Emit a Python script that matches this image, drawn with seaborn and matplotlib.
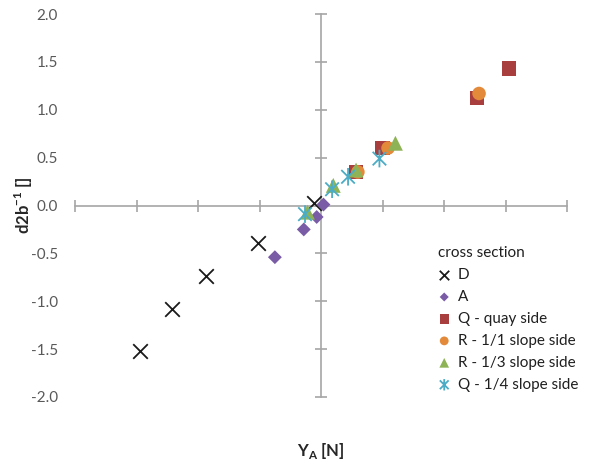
import numpy as np
import pandas as pd
import matplotlib
matplotlib.use("Agg")
import matplotlib.pyplot as plt
from matplotlib.path import Path
import seaborn as sns

# Measured points per cross section (Y_A in tick units, d2b^-1 dimensionless)
d_x = [-2.94, -2.42, -1.87, -1.02, -0.12]
d_y = [-1.52, -1.08, -0.74, -0.39, 0.03]

a_x = [-0.75, -0.28, -0.07, 0.04]
a_y = [-0.54, -0.25, -0.12, 0.01]

q_quay_x = [0.57, 1.00, 2.54, 3.06]
q_quay_y = [0.35, 0.60, 1.12, 1.43]

r_11_x = [0.60, 1.09, 2.57]
r_11_y = [0.35, 0.60, 1.17]

r_13_x = [-0.22, 0.20, 0.57, 1.21]
r_13_y = [-0.07, 0.21, 0.37, 0.65]

q_14_x = [-0.26, 0.18, 0.44, 0.95]
q_14_y = [-0.09, 0.17, 0.30, 0.49]

series_names = ["D", "A", "Q - quay side", "R - 1/1 slope side",
                "R - 1/3 slope side", "Q - 1/4 slope side"]

x_ticks = [-4, -3, -2, -1, 0, 1, 2, 3, 4]
y_ticks = [-2.0, -1.5, -1.0, -0.5, 0.0, 0.5, 1.0, 1.5, 2.0]
y_tick_labels = ["-2.0", "-1.5", "-1.0", "-0.5", "0.0", "0.5", "1.0", "1.5", "2.0"]

frames = []
for name, xs, ys in zip(series_names,
                        [d_x, a_x, q_quay_x, r_11_x, r_13_x, q_14_x],
                        [d_y, a_y, q_quay_y, r_11_y, r_13_y, q_14_y]):
    frames.append(pd.DataFrame({"Y_A": xs, "d2b": ys, "section": name}))
df = pd.concat(frames, ignore_index=True)

# asterisk marker: an X crossed by a vertical stroke
ast = Path([(-1, -1), (1, 1), (-1, 1), (1, -1), (0, -1.3), (0, 1.3)],
           [Path.MOVETO, Path.LINETO, Path.MOVETO, Path.LINETO, Path.MOVETO, Path.LINETO])

styles = {
    "D": dict(marker="x", color="#1a1a1a", s=110, linewidth=1.3),
    "A": dict(marker="D", color="#7A5CA6", s=50, edgecolor="none"),
    "Q - quay side": dict(marker="s", color="#A83F3E", s=105, edgecolor="none"),
    "R - 1/1 slope side": dict(marker="o", color="#E38A3A", s=95, edgecolor="none"),
    "R - 1/3 slope side": dict(marker="^", color="#8DB356", s=115, edgecolor="none"),
    "Q - 1/4 slope side": dict(marker=ast, color="#4BACC6", s=160, linewidth=1.3,
                               edgecolor="#4BACC6", facecolor="none"),
}

sns.set_style("white")
plt.rcParams["font.family"] = ["Lato", "DejaVu Sans"]

fig = plt.figure(figsize=(6.14, 4.66), dpi=100)
ax = fig.add_axes([75 / 614, 1 - 397 / 466, (567 - 75) / 614, (397 - 14) / 466])

for name in series_names:
    sub = df[df["section"] == name]
    sns.scatterplot(data=sub, x="Y_A", y="d2b", ax=ax, label=name, zorder=3,
                    **styles[name])

ax.set_xlim(-4, 4)
ax.set_ylim(-2, 2)

axis_grey = "#A6A6A6"
for side in ["top", "left"]:
    ax.spines[side].set_visible(False)
ax.spines["bottom"].set_position(("data", 0))
ax.spines["right"].set_position(("data", 0))
for side in ["bottom", "right"]:
    ax.spines[side].set_color(axis_grey)
    ax.spines[side].set_linewidth(1.2)

ax.set_xticks(x_ticks)
ax.set_yticks(y_ticks)
ax.set_yticklabels(y_tick_labels)
ax.tick_params(axis="x", direction="inout", length=9, width=1.2, color=axis_grey,
               labelbottom=False, bottom=True, top=False)
ax.tick_params(axis="y", direction="inout", length=9, width=1.2, color=axis_grey,
               left=False, right=True, labelleft=True, labelright=False,
               labelsize=11, labelcolor="#595959", pad=7.7)

ax.set_xlabel("Y$_\\mathregular{A}$ [N]", fontsize=12, fontweight="bold",
              color="#262626", labelpad=0)
ax.xaxis.set_label_coords(0.5, -0.115)
ax.set_ylabel("d2b$^{\\mathregular{-1}}$ []", fontsize=12, fontweight="bold",
              color="#262626")
ax.yaxis.set_label_coords(-0.082, 0.5)

leg = ax.legend(title="cross section", loc="upper left",
                bbox_to_anchor=(432 / 614, 1 - 240 / 466),
                bbox_transform=fig.transFigure, frameon=False,
                fontsize=11, title_fontsize=11, markerscale=0.65,
                handlelength=0.8, handletextpad=0.5, labelspacing=0.52,
                borderaxespad=0, alignment="left")
for t in leg.get_texts():
    t.set_color("#1f1f1f")
leg.get_title().set_color("#1f1f1f")

fig.savefig("out.png", dpi=100)
